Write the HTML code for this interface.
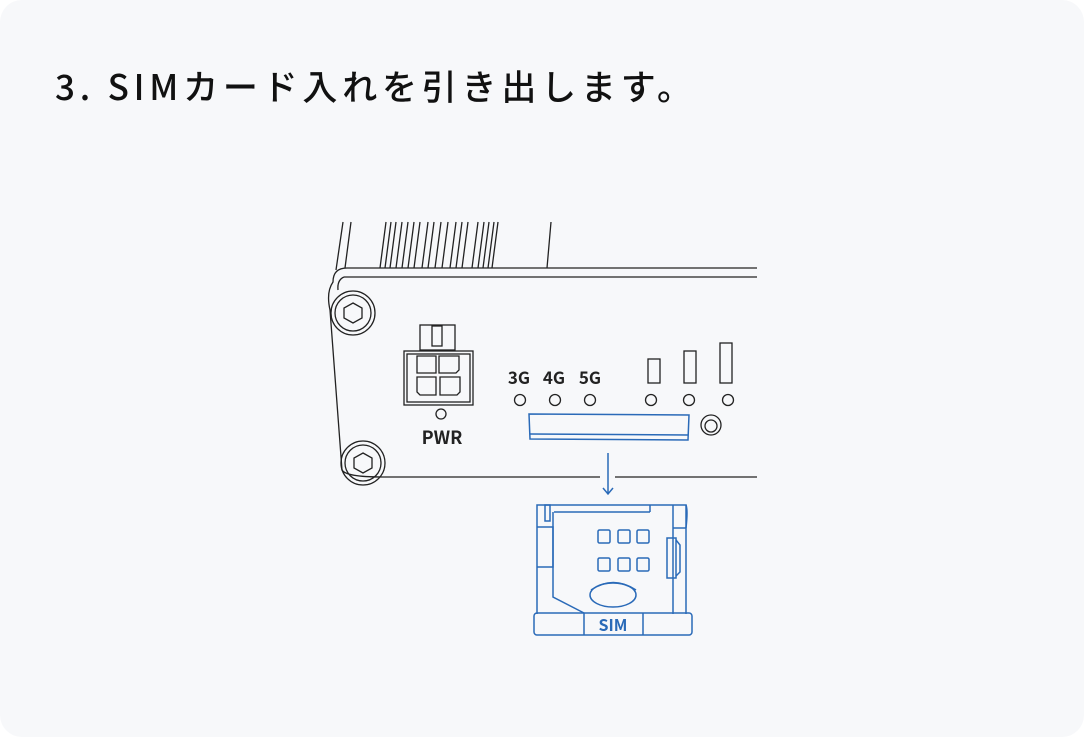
<!DOCTYPE html>
<html><head><meta charset="utf-8"><style>
html,body{margin:0;padding:0;background:#fff;}
</style></head><body>
<svg width="1084" height="737" viewBox="0 0 1084 737" xmlns="http://www.w3.org/2000/svg">
<rect x="0" y="0" width="1084" height="737" rx="22" fill="#f7f8fa"/>
<text x="55" y="100" textLength="637" lengthAdjust="spacing" font-family="'Noto Sans CJK JP',sans-serif" font-size="35" font-weight="500" fill="#111">3. SIMカード入れを引き出します。</text>
<g fill="none" stroke="#222" stroke-width="1.3">
<path d="M343 222 L336 270 M351 222 L345 268"/>
<path d="M386 222 L380 268 M391 222 L385 268 M396 222 L390 268 M402 222 L396 268 M408 222 L402 268 M414 222 L408 268 M420 222 L414 268 M428 222 L422 268 M434 222 L428 268 M441 222 L435 268 M448 222 L442 268 M456 222 L450 268 M462 222 L456 268 M468 222 L462 268 M478 222 L472 268 M484 222 L478 268 M489 222 L483 268 M494 222 L488 268 M498 222 L492 268 M551 222 L547 268"/>
<path d="M347 268 L757 268"/>
<path d="M344 277 L757 277"/>
<path d="M347 268 Q333 268 333 282 Q326 292 330 310 L342 470 Q346 477 383 477"/>
<path d="M344 277 Q337 280 338 290"/>
<path d="M383 477 L600 477 M615 477 L757 477"/>
<circle cx="353" cy="313" r="22"/><circle cx="353" cy="313" r="18"/>
<polygon points="353,303 362,308 362,318 353,323 344,318 344,308"/>
<circle cx="363" cy="463" r="22"/><circle cx="363" cy="463" r="18"/>
<polygon points="363,453 372,458 372,468 363,473 354,468 354,458"/>
<rect x="420" y="325" width="35" height="25"/>
<rect x="432" y="326" width="10" height="20"/>
<rect x="404" y="351" width="69" height="54"/>
<rect x="407" y="354" width="63" height="48"/>
<path d="M417 356 h19 v17 h-19 z M439 356 h20 v14 l-3 3 h-17 z M417 377 h19 v18 h-16 l-3 -3 z M440 377 h20 v15 l-3 3 h-17 z"/>
<circle cx="441" cy="414" r="5"/>
<circle cx="520" cy="400" r="5.5"/><circle cx="555" cy="400" r="5.5"/><circle cx="590" cy="400" r="5.5"/>
<circle cx="651" cy="400" r="5.5"/><circle cx="689" cy="400" r="5.5"/><circle cx="728" cy="400" r="5.5"/>
<rect x="648" y="359" width="12" height="24"/>
<rect x="684" y="351" width="12" height="32"/>
<rect x="720" y="343" width="12" height="40"/>
<circle cx="711" cy="425" r="10"/><circle cx="711" cy="426" r="6"/>
</g>
<g font-family="'Noto Sans CJK JP',sans-serif" font-weight="bold" font-size="17" fill="#222" text-anchor="middle">
<text x="519" y="384">3G</text><text x="554" y="384">4G</text><text x="590" y="384">5G</text>
<text x="442" y="444" font-size="18">PWR</text>
</g>
<g fill="none" stroke="#2a6ab8" stroke-width="1.5">
<path d="M529 414 L689 415 L688 440 L530 439 Z"/>
<path d="M530 434 L688 435"/>
<path d="M608 453 L608 494 M603 488 L608 494 L613 488"/>
<path d="M537 614 L537 505 L686 505 L686 614"/>
<path d="M554 512 L650 512 M650 505 L650 512"/>
<rect x="545" y="505" width="5" height="16"/>
<path d="M537 527 L553 527 L553 567 L537 567"/>
<path d="M553 512 L553 597 L584 613"/>
<path d="M673 505 L673 614 M673 528 L686 528 M686 505 Q688 510 686 528"/>
<rect x="667" y="538" width="9" height="40"/>
<path d="M676 540 L680 545 L680 572 L676 576"/>
<rect x="598" y="530" width="12" height="13" rx="1.5"/><rect x="618" y="530" width="12" height="13" rx="1.5"/><rect x="637" y="530" width="12" height="13" rx="1.5"/>
<rect x="598" y="558" width="12" height="13" rx="1.5"/><rect x="618" y="558" width="12" height="13" rx="1.5"/><rect x="637" y="558" width="12" height="13" rx="1.5"/>
<ellipse cx="613" cy="595" rx="23" ry="12"/>
<path d="M591 590 Q613 575 636 590"/>
<rect x="534" y="613" width="158" height="22" rx="3"/>
<path d="M584 613 L584 635 M643 613 L643 635"/>
</g>
<text x="613" y="631" text-anchor="middle" font-family="'Noto Sans CJK JP',sans-serif" font-weight="bold" font-size="16" fill="#2a6ab8">SIM</text>
</svg>
</body></html>
